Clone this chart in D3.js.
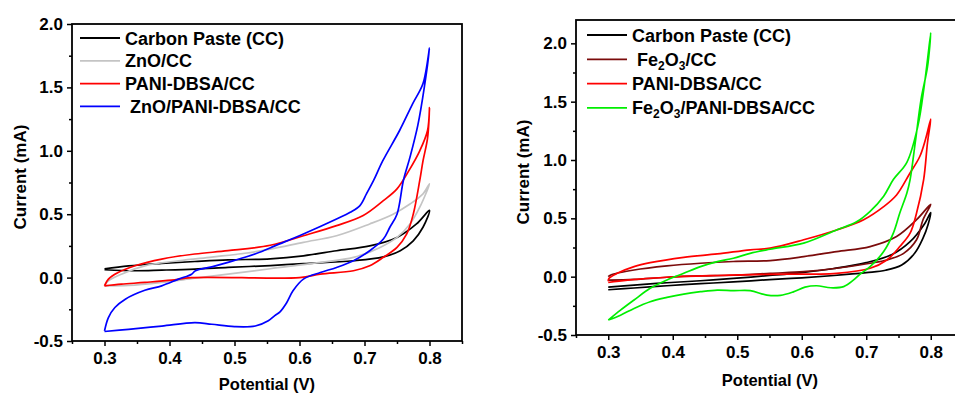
<!DOCTYPE html>
<html>
<head>
<meta charset="utf-8">
<script src="https://cdn.jsdelivr.net/npm/d3@7"></script>
<style>
	body { margin: 0; background: #fff; }
	svg text { font-family: "Liberation Sans", Arial, sans-serif; font-weight: bold; fill: #000; }
</style>
</head>
<body>
<svg id="chart" width="955" height="394"></svg>
<script>
// ---- left panel : ZnO series, [potential V, current mA] loops ----
const leftCarbon = [
	[0.3,0.07],[0.337,0.093],[0.388,0.112],[0.439,0.127],[0.49,0.14],[0.555,0.148],[0.606,0.172],
	[0.657,0.212],[0.708,0.25],[0.75,0.317],[0.78,0.423],[0.8,0.53],
	[0.79,0.397],[0.775,0.29],[0.755,0.212],[0.729,0.164],[0.683,0.133],[0.606,0.11],[0.555,0.095],
	[0.49,0.08],[0.439,0.067],[0.388,0.059],[0.347,0.054],[0.3,0.062]
] ;
const leftZnO = [
	[0.3,-0.06],[0.306,-0.025],[0.326,0.027],[0.362,0.093],[0.414,0.133],[0.465,0.162],[0.516,0.192],
	[0.555,0.225],[0.606,0.278],[0.657,0.33],[0.708,0.423],[0.744,0.5],[0.77,0.58],[0.79,0.66],[0.8,0.74],
	[0.785,0.555],[0.77,0.423],[0.75,0.317],[0.724,0.238],[0.683,0.159],[0.632,0.12],[0.555,0.07],
	[0.49,0.027],[0.439,-0.005],[0.388,-0.038],[0.337,-0.062],[0.3,-0.065]
] ;
const leftPani = [
	[0.3,-0.065],[0.306,-0.012],[0.321,0.04],[0.347,0.093],[0.388,0.146],[0.439,0.186],[0.49,0.212],
	[0.555,0.255],[0.606,0.33],[0.657,0.41],[0.698,0.49],[0.729,0.607],[0.75,0.7],[0.769,0.85],
	[0.785,1.0],[0.797,1.16],[0.8,1.34],
	[0.797,1.1],[0.79,0.92],[0.785,0.766],[0.775,0.5],[0.765,0.344],[0.75,0.238],[0.729,0.16],
	[0.708,0.093],[0.683,0.054],[0.632,0.027],[0.6,0.0],[0.434,0.0],[0.403,-0.02],[0.362,-0.038],
	[0.326,-0.052],[0.3,-0.065]
] ;
const leftZnOPani = [
	[0.3,-0.42],[0.306,-0.315],[0.316,-0.236],[0.332,-0.17],[0.362,-0.1],[0.388,-0.065],[0.414,-0.012],
	[0.434,0.027],[0.44,0.054],[0.465,0.085],[0.49,0.12],[0.516,0.16],[0.542,0.206],[0.562,0.25],
	[0.606,0.344],[0.657,0.462],[0.678,0.515],[0.693,0.568],[0.703,0.66],[0.714,0.766],[0.728,0.92],
	[0.754,1.16],[0.774,1.37],[0.79,1.53],[0.8,1.81],
	[0.792,1.5],[0.782,1.2],[0.77,0.95],[0.76,0.77],[0.75,0.5],[0.739,0.397],[0.729,0.304],[0.708,0.212],
	[0.683,0.133],[0.657,0.08],[0.632,0.04],[0.606,-0.012],[0.59,-0.104],[0.58,-0.2],[0.57,-0.27],
	[0.562,-0.3],[0.552,-0.34],[0.532,-0.382],[0.5,-0.387],[0.465,-0.368],[0.439,-0.355],[0.388,-0.382],
	[0.337,-0.408],[0.3,-0.425]
] ;

// ---- right panel : Fe2O3 series ----
const rightCarbon = [
	[0.3,-0.09],[0.34,-0.072],[0.391,-0.052],[0.443,-0.035],[0.494,-0.015],[0.55,0.01],[0.6,0.035],
	[0.65,0.07],[0.7,0.12],[0.74,0.19],[0.768,0.3],[0.79,0.45],[0.8,0.55],
	[0.796,0.45],[0.788,0.33],[0.775,0.2],[0.755,0.1],[0.73,0.055],[0.7,0.035],[0.65,0.01],[0.6,-0.01],
	[0.55,-0.025],[0.494,-0.045],[0.443,-0.06],[0.391,-0.078],[0.34,-0.097],[0.3,-0.112]
] ;
const rightFe = [
	[0.3,0.0],[0.304,0.015],[0.34,0.057],[0.391,0.092],[0.443,0.115],[0.494,0.13],[0.551,0.138],
	[0.603,0.172],[0.654,0.215],[0.706,0.258],[0.747,0.344],[0.778,0.488],[0.8,0.62],
	[0.788,0.488],[0.778,0.316],[0.758,0.2],[0.732,0.143],[0.706,0.115],[0.654,0.072],[0.603,0.043],
	[0.551,0.029],[0.494,0.012],[0.443,0.006],[0.391,-0.005],[0.34,-0.023],[0.3,-0.03]
] ;
const rightPani = [
	[0.3,-0.04],[0.301,-0.015],[0.314,0.029],[0.34,0.086],[0.365,0.12],[0.417,0.166],[0.469,0.195],
	[0.52,0.23],[0.551,0.244],[0.603,0.316],[0.654,0.4],[0.696,0.488],[0.727,0.6],[0.747,0.7],
	[0.767,0.88],[0.783,1.03],[0.792,1.18],[0.8,1.35],
	[0.795,1.15],[0.789,0.832],[0.778,0.545],[0.768,0.373],[0.752,0.258],[0.732,0.143],[0.706,0.072],
	[0.654,0.029],[0.551,0.02],[0.469,0.01],[0.391,-0.005],[0.33,-0.03],[0.3,-0.05]
] ;
const rightFePani = [
	[0.3,-0.372],[0.319,-0.287],[0.34,-0.2],[0.365,-0.1],[0.391,-0.028],[0.417,0.029],[0.443,0.086],
	[0.469,0.129],[0.494,0.158],[0.52,0.2],[0.551,0.235],[0.603,0.287],[0.654,0.4],[0.685,0.47],
	[0.706,0.56],[0.727,0.69],[0.742,0.832],[0.763,0.98],[0.78,1.29],[0.79,1.64],[0.8,2.09],
	[0.795,1.8],[0.785,1.52],[0.776,1.15],[0.768,0.832],[0.763,0.717],[0.752,0.545],[0.742,0.373],
	[0.727,0.215],[0.706,0.086],[0.69,0.02],[0.68,-0.03],[0.665,-0.085],[0.645,-0.095],[0.623,-0.078],
	[0.605,-0.09],[0.587,-0.13],[0.567,-0.16],[0.546,-0.158],[0.52,-0.12],[0.494,-0.12],[0.469,-0.115],
	[0.443,-0.129],[0.417,-0.149],[0.391,-0.178],[0.365,-0.215],[0.34,-0.272],[0.319,-0.33],[0.3,-0.372]
] ;

const xTicks = [0.3, 0.4, 0.5, 0.6, 0.7, 0.8] ;
const xMinor = [0.25, 0.35, 0.45, 0.55, 0.65, 0.75, 0.85] ;
const yTicks = [-0.5, 0.0, 0.5, 1.0, 1.5, 2.0] ;
const yMinor = [-0.25, 0.25, 0.75, 1.25, 1.75] ;

const leftLabels = [ 'Carbon Paste (CC)', 'ZnO/CC', 'PANI-DBSA/CC', ' ZnO/PANI-DBSA/CC' ] ;
const rightLabels = [ 'Carbon Paste (CC)', ' Fe|2|O|3|/CC', 'PANI-DBSA/CC', 'Fe|2|O|3|/PANI-DBSA/CC' ] ;

const panels = [
	{
		geom: { left: 72, right: 462, top: 24, bottom: 341, yMax: 2.0,
			yTitle: [26, 177], xTitle: [267, 390], legend: [80, 38, 22.8] },
		series: [ leftCarbon, leftZnO, leftPani, leftZnOPani ],
		colors: [ '#000000', '#c4c4c4', '#ff0000', '#0000ff' ],
		labels: leftLabels
	},
	{
		geom: { left: 576, right: 963, top: 20, bottom: 335, yMax: 2.2,
			yTitle: [529, 172], xTitle: [770, 386], legend: [587, 35, 24.3] },
		series: [ rightCarbon, rightFe, rightPani, rightFePani ],
		colors: [ '#000000', '#7b0b0b', '#ff0000', '#00ee00' ],
		labels: rightLabels
	}
] ;

const svg = d3.select('#chart') ;

panels.forEach( p => {
	const g = p.geom ;
	const x = d3.scaleLinear().domain( [0.25, 0.85] ).range( [g.left, g.right] ) ;
	const y = d3.scaleLinear().domain( [-0.5, g.yMax] ).range( [g.bottom, g.top] ) ;
	const panel = svg.append( 'g' ) ;

	// curves first, frame on top
	const line = d3.line().x( d => x(d[0]) ).y( d => y(d[1]) ).curve( d3.curveCatmullRom.alpha(0.5) ) ;
	p.series.forEach( (s, i) => {
		panel.append( 'path' )
			.datum( s )
			.attr( 'd', line )
			.attr( 'fill', 'none' )
			.attr( 'stroke', p.colors[i] )
			.attr( 'stroke-width', 1.7 )
			.attr( 'stroke-linejoin', 'round' ) ;
	} ) ;

	const styleAxis = sel => {
		sel.select( '.domain' ).remove() ;
		sel.selectAll( 'line' ).attr( 'stroke', '#000' ).attr( 'stroke-width', 1.5 ) ;
		sel.selectAll( 'text' ).attr( 'font-size', 17 ) ;
	} ;

	panel.append( 'g' )
		.attr( 'transform', 'translate(0,' + g.bottom + ')' )
		.call( d3.axisBottom(x).tickValues(xTicks).tickSize(5).tickPadding(6).tickFormat( d => d.toFixed(1) ) )
		.call( styleAxis ) ;
	panel.append( 'g' )
		.attr( 'transform', 'translate(0,' + g.bottom + ')' )
		.call( d3.axisBottom(x).tickValues(xMinor).tickSize(3).tickFormat('') )
		.call( styleAxis ) ;
	panel.append( 'g' )
		.attr( 'transform', 'translate(' + g.left + ',0)' )
		.call( d3.axisLeft(y).tickValues(yTicks).tickSize(5).tickPadding(4).tickFormat( d => d.toFixed(1) ) )
		.call( styleAxis ) ;
	panel.append( 'g' )
		.attr( 'transform', 'translate(' + g.left + ',0)' )
		.call( d3.axisLeft(y).tickValues(yMinor).tickSize(3).tickFormat('') )
		.call( styleAxis ) ;

	panel.append( 'rect' )
		.attr( 'x', g.left ).attr( 'y', g.top )
		.attr( 'width', g.right - g.left ).attr( 'height', g.bottom - g.top )
		.attr( 'fill', 'none' ).attr( 'stroke', '#000' ).attr( 'stroke-width', 1.8 ) ;

	panel.append( 'text' )
		.attr( 'transform', 'translate(' + g.yTitle[0] + ',' + g.yTitle[1] + ') rotate(-90)' )
		.attr( 'text-anchor', 'middle' )
		.attr( 'font-size', 17 )
		.text( 'Current (mA)' ) ;
	panel.append( 'text' )
		.attr( 'x', g.xTitle[0] ).attr( 'y', g.xTitle[1] )
		.attr( 'text-anchor', 'middle' )
		.attr( 'font-size', 16.5 )
		.text( 'Potential (V)' ) ;

	// legend
	const lg = panel.append( 'g' ) ;
	p.labels.forEach( (lab, i) => {
		const ly = g.legend[1] + i * g.legend[2] ;
		lg.append( 'line' )
			.attr( 'x1', g.legend[0] ).attr( 'x2', g.legend[0] + 40 )
			.attr( 'y1', ly ).attr( 'y2', ly )
			.attr( 'stroke', p.colors[i] ).attr( 'stroke-width', 1.8 ) ;
		const t = lg.append( 'text' )
			.attr( 'x', g.legend[0] + 45 ).attr( 'y', ly + 6.5 )
			.attr( 'font-size', 18 )
			.attr( 'xml:space', 'preserve' ) ;
		// '|' splits normal text from subscripts
		lab.split( '|' ).forEach( (part, k) => {
			const sub = k % 2 == 1 ;
			t.append( 'tspan' )
				.attr( 'font-size', sub ? 12 : 18 )
				.attr( 'dy', sub ? 4 : (k > 0 ? -4 : 0) )
				.text( part ) ;
		} ) ;
	} ) ;
} ) ;
</script>
</body>
</html>
